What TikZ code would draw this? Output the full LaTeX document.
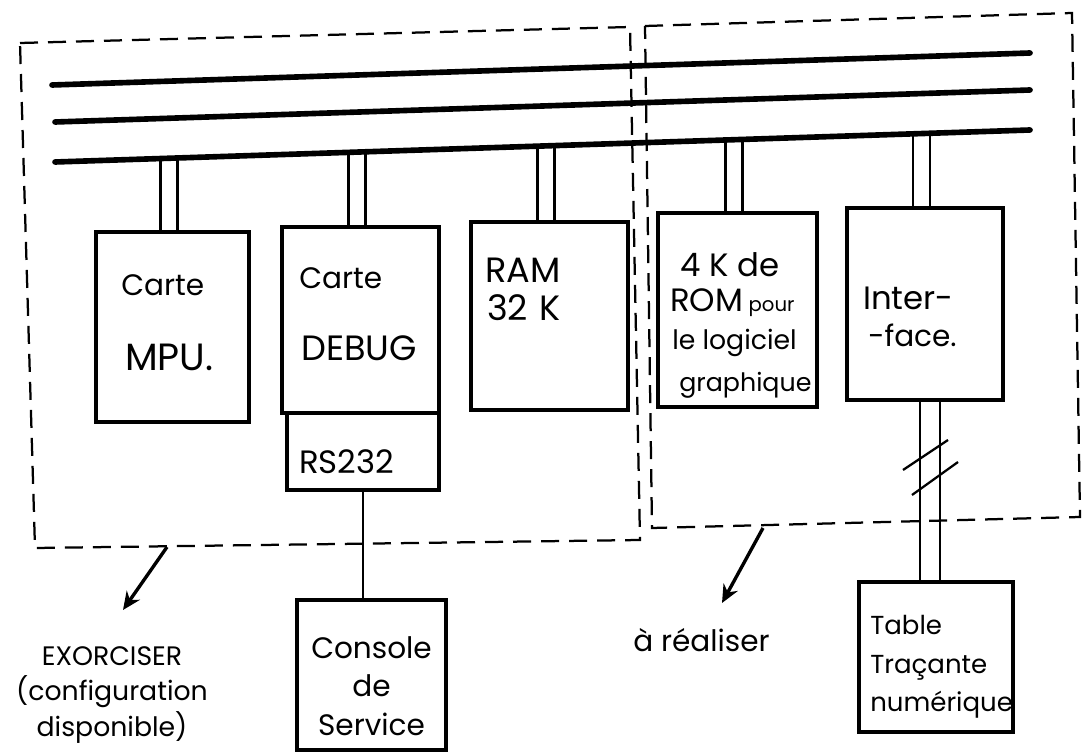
\documentclass[tikz,border=0pt]{standalone}
\usepackage{fontspec}
\setmainfont{Poppins}
\usetikzlibrary{arrows.meta,intersections}

\begin{document}
\begin{tikzpicture}[x=0.025cm, y=-0.025cm,
  every node/.style={font=\fontsize{21}{27}\selectfont, inner sep=0pt},
  boite/.style 2 args={draw, line width=2.6pt, minimum width=#1*0.025cm, minimum height=#2*0.025cm},
  bus/.style={line width=4pt, line cap=round},
  fil/.style={line width=1.6pt},
  zone/.style={line width=1.6pt, dash pattern=on 0.45cm off 0.25cm},
  fleche/.style={line width=2.4pt, -{Stealth[length=4.5mm, width=4mm]}}]
  \useasboundingbox (0,0) rectangle (1084,753);

  % les deux zones en pointille
  \draw[zone] (20,43) -- (630,27) -- (640,540) -- (35,548) -- cycle;
  \draw[zone] (645,26) -- (1072,13) -- (1080,517) -- (652,528) -- cycle;

  % bus
  \coordinate (b1w) at (52,85);  \coordinate (b1e) at (1030,53);
  \coordinate (b2w) at (55,122); \coordinate (b2e) at (1030,90);
  \coordinate (b3w) at (55,162); \coordinate (b3e) at (1030,130);
  \draw[bus] (b1w) -- (b1e);
  \draw[bus] (b2w) -- (b2e);
  \draw[bus, name path=bus3] (b3w) -- (b3e);

  % cartes
  \node[boite={153}{190}] (mpu) at (172.5,327) {};
  \node[boite={157}{186}] (debug) at (360.5,320) {};
  \node[boite={152}{77}] (rs) at (363,451.5) {};
  \node[boite={157}{188}] (ram) at (549.5,316) {};
  \node[boite={159}{194}] (rom) at (737.5,310) {};
  \node[boite={156}{192}] (iface) at (925,304) {};
  \node[boite={149}{150}] (console) at (371.5,675) {};
  \node[boite={154}{150}] (table) at (936,657) {};

  \node[anchor=west] at (121,285) {Carte};
  \node[anchor=west, font=\fontsize{27}{27}\selectfont] at (125,357) {MPU.};
  \node[anchor=west] at (299,278) {Carte};
  \node[anchor=west, font=\fontsize{25}{27}\selectfont] at (301,348) {DEBUG};
  \node[anchor=west, font=\fontsize{23}{27}\selectfont] at (299,462) {RS232};
  \node[anchor=west, font=\fontsize{25}{27}\selectfont] at (485,270) {RAM};
  \node[anchor=west, font=\fontsize{25}{27}\selectfont] at (487,308) {32\,\,K};
  \node[anchor=west, font=\fontsize{23}{27}\selectfont] at (680,265) {4 K de};
  \node[anchor=west, font=\fontsize{23}{27}\selectfont] at (670,303) {ROM\,{\fontsize{14}{16}\selectfont pour}};
  \node[anchor=west, font=\fontsize{19}{27}\selectfont] at (672,343) {le logiciel};
  \node[anchor=west, font=\fontsize{18}{27}\selectfont] at (679,385) {graphique};
  \node[anchor=west, font=\fontsize{23}{27}\selectfont] at (863,298) {Inter-};
  \node[anchor=west] at (868,335) {-face.};

  % liaisons au bus
  \foreach \b in {mpu,debug,ram,rom,iface}
    \foreach \d in {-12,5}{
      \path[name path=montant] ([xshift=\d*0.025cm]\b.north) -- ++(0,-120);
      \draw[fil, name intersections={of=montant and bus3, by=pied}]
        ([xshift=\d*0.025cm]\b.north) -- (pied);
    }

  \draw[fil] (rs.south) -- (rs.south |- console.north);
  \foreach \d in {-5,15}
    \draw[fil] ([xshift=\d*0.025cm]iface.south) -- ([xshift=\d*0.025cm]iface.south |- table.north);
  \draw[fil] (903,470) -- (948,440);
  \draw[fil] (912,495) -- (958,462);

  % peripheriques
  \node[align=center, font=\fontsize{21}{27.5}\selectfont] at (371.5,686) {Console\\de\\Service};
  \node[align=left, anchor=west, font=\fontsize{18.5}{27.3}\selectfont] at (870,667) {Table\\Traçante\\numérique};

  % legendes
  \coordinate (exo) at (167,547);
  \coordinate (neuf) at (763,528);
  \draw[fleche] (exo) -- (123,610);
  \draw[fleche] (neuf) -- (722,603);
  \node[align=center, font=\fontsize{19}{25}\selectfont] at (112,695) {EXORCISER\\(configuration\\disponible)};
  \node[anchor=west] at (633,640) {à réaliser};
\end{tikzpicture}
\end{document}
